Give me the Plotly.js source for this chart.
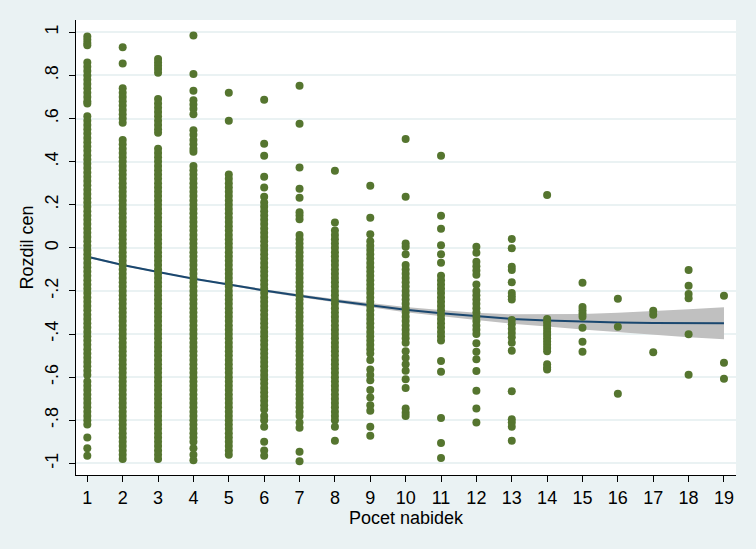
<!DOCTYPE html>
<html>
<head>
<meta charset="utf-8">
<script src="https://cdn.plot.ly/plotly-3.0.1.min.js"></script>
<style>html,body{margin:0;padding:0;background:#EAF2F3;}#chart{width:756px;height:549px;}</style>
</head>
<body>
<div id="chart"></div>
<script>
// Category positions (Pocet nabidek)
const categories = [1,2,3,4,5,6,7,8,9,10,11,12,13,14,15,16,17,18,19];
const yTickVals = [-1,-0.8,-0.6,-0.4,-0.2,0,0.2,0.4,0.6,0.8,1];
const yTickText = ["-1","-.8","-.6","-.4","-.2","0",".2",".4",".6",".8","1"];

const c1 = [.98,.965,.95,.94,.86,.84,.82,.80,.78,.76,.74,.72,.70,.68,.67,
 .61,.59,.57,.55,.53,.51,.49,.47,.45,.43,.41,.39,.37,.35,.33,.31,.29,.27,.25,.23,.21,.19,.17,.15,.13,.11,.09,.07,.05,.03,.01,
 -.01,-.03,-.05,-.07,-.09,-.11,-.13,-.15,-.17,-.19,-.21,-.23,-.25,-.27,-.29,-.31,-.33,-.35,-.37,-.39,-.41,-.43,-.45,-.47,-.49,-.51,-.53,-.55,-.57,-.59,
 -.62,-.64,-.66,-.68,-.70,-.72,-.74,-.76,-.78,-.80,-.82,-.88,-.93,-.965];
const c2 = [.93,.855,.74,.72,.70,.68,.66,.64,.62,.60,.58,
 .50,.48,.46,.44,.42,.40,.38,.36,.34,.32,.30,.28,.26,.24,.22,.20,.18,.16,.14,.12,.10,.08,.06,.04,.02,0,
 -.02,-.04,-.06,-.08,-.10,-.12,-.14,-.16,-.18,-.20,-.22,-.24,-.26,-.28,-.30,-.32,-.34,-.36,-.38,-.40,-.42,-.44,-.46,-.48,-.50,
 -.52,-.54,-.56,-.58,-.60,-.62,-.64,-.66,-.68,-.70,-.72,-.74,-.76,-.78,-.80,-.82,-.84,-.86,-.88,-.90,-.92,-.94,-.96,-.98];
const c3 = [.876,.86,.845,.83,.812,.69,.67,.65,.63,.61,.59,.57,.55,.534,
 .46,.44,.42,.40,.38,.36,.34,.32,.30,.28,.26,.24,.22,.20,.18,.16,.14,.12,.10,.08,.06,.04,.02,0,
 -.02,-.04,-.06,-.08,-.10,-.12,-.14,-.16,-.18,-.20,-.22,-.24,-.26,-.28,-.30,-.32,-.34,-.36,-.38,-.40,-.42,-.44,-.46,-.48,-.50,
 -.52,-.54,-.56,-.58,-.60,-.62,-.64,-.66,-.68,-.70,-.72,-.74,-.76,-.78,-.80,-.82,-.84,-.86,-.88,-.90,-.92,-.94,-.96,-.98];
const c4 = [.985,.806,.729,.685,.665,.645,.62,.545,.525,.50,.48,.46,.446,
 .38,.36,.34,.32,.30,.28,.26,.24,.22,.20,.18,.16,.14,.12,.10,.08,.06,.04,.02,0,
 -.02,-.04,-.06,-.08,-.10,-.12,-.14,-.16,-.18,-.20,-.22,-.24,-.26,-.28,-.30,-.32,-.34,-.36,-.38,-.40,-.42,-.44,-.46,-.48,-.50,
 -.52,-.54,-.56,-.58,-.60,-.62,-.64,-.66,-.68,-.70,-.72,-.74,-.76,-.78,-.80,-.82,-.84,-.86,-.88,-.90,-.93,-.96,-.985];
const c5 = [.72,.59,
 .34,.32,.30,.28,.26,.24,.22,.20,.18,.16,.14,.12,.10,.08,.06,.04,.02,0,
 -.02,-.04,-.06,-.08,-.10,-.12,-.14,-.16,-.18,-.20,-.22,-.24,-.26,-.28,-.30,-.32,-.34,-.36,-.38,-.40,-.42,-.44,-.46,-.48,-.50,
 -.52,-.54,-.56,-.58,-.60,-.62,-.64,-.66,-.68,-.70,-.72,-.74,-.76,-.78,-.80,-.82,-.84,-.86,-.88,-.90,-.92,-.94,-.96];
const c6 = [.687,.483,.427,.33,.28,.237,
 .21,.19,.17,.15,.13,.11,.09,.07,.05,.03,.01,
 -.01,-.03,-.05,-.07,-.09,-.11,-.13,-.15,-.17,-.19,-.21,-.23,-.25,-.27,-.29,-.31,-.33,-.35,-.37,-.39,-.41,-.43,-.45,-.47,-.49,
 -.51,-.53,-.55,-.57,-.59,-.61,-.63,-.65,-.67,-.69,-.71,-.73,-.75,-.78,-.80,-.83,-.90,-.94,-.965];
const c7 = [.752,.576,.373,.274,.232,.165,.15,.132,
 .06,.04,.02,0,-.02,-.04,-.06,-.08,-.10,-.12,-.14,-.16,-.18,-.20,-.22,-.24,-.26,-.28,-.30,-.32,-.34,-.36,-.38,-.40,-.42,-.44,-.46,-.48,-.50,
 -.52,-.54,-.56,-.58,-.60,-.62,-.64,-.66,-.68,-.70,-.72,-.74,-.76,-.78,-.81,-.835,-.946,-.99];
const c8 = [.358,.118,
 .08,.06,.04,.02,0,-.02,-.04,-.06,-.08,-.10,-.12,-.14,-.16,-.18,-.20,-.22,-.24,-.26,-.28,-.30,-.32,-.34,-.36,-.38,-.40,-.42,-.44,-.46,-.48,-.50,
 -.52,-.54,-.56,-.58,-.60,-.62,-.64,-.66,-.68,-.70,-.72,-.74,-.76,-.78,-.80,-.83,-.895];
const c9 = [.288,.14,.063,
 .03,.01,-.01,-.03,-.05,-.07,-.09,-.11,-.13,-.15,-.17,-.19,-.21,-.23,-.25,-.27,-.29,-.31,-.33,-.35,-.37,-.39,-.41,-.43,-.45,-.47,-.49,
 -.52,-.565,-.59,-.614,-.66,-.694,-.73,-.756,-.83,-.872];
const c10 = [.505,.237,.02,.005,-.03,
 -.08,-.10,-.12,-.14,-.16,-.18,-.20,-.22,-.24,-.26,-.28,-.30,-.32,-.34,-.36,-.38,-.40,-.42,-.44,
 -.48,-.51,-.54,-.57,-.61,-.65,-.745,-.765,-.78];
const c11 = [.427,.149,.089,.012,-.03,-.069,
 -.13,-.15,-.17,-.19,-.21,-.23,-.25,-.27,-.29,-.31,-.33,-.35,-.37,-.39,-.41,-.43,
 -.525,-.575,-.79,-.905,-.975];
const c12 = [.005,-.023,-.065,-.085,-.105,-.125,-.17,-.20,-.22,-.24,-.26,-.28,-.30,-.32,-.34,-.36,-.38,-.40,
 -.443,-.482,-.517,-.572,-.663,-.745,-.81];
const c13 = [.041,-.002,-.088,-.103,-.16,-.21,-.225,-.24,-.335,-.355,-.375,-.395,-.415,-.44,-.478,-.665,-.795,-.81,-.83,-.895];
const c14 = [.245,-.33,-.345,-.36,-.375,-.39,-.405,-.42,-.435,-.45,-.465,-.48,-.54,-.555,-.565];
const c15 = [-.162,-.275,-.29,-.305,-.32,-.371,-.436,-.482];
const c16 = [-.236,-.366,-.677];
const c17 = [-.292,-.31,-.484];
const c18 = [-.103,-.176,-.214,-.234,-.401,-.589];
const c19 = [-.222,-.533,-.607];
const columns = [c1,c2,c3,c4,c5,c6,c7,c8,c9,c10,c11,c12,c13,c14,c15,c16,c17,c18,c19];

// Quadratic fit with 95% CI
const fitY   = [-0.041,-0.080,-0.112,-0.143,-0.170,-0.198,-0.222,-0.246,-0.266,-0.287,-0.303,-0.318,-0.330,-0.337,-0.343,-0.346,-0.349,-0.350,-0.350];
const ciHigh = [-0.036,-0.076,-0.108,-0.139,-0.165,-0.192,-0.215,-0.238,-0.256,-0.275,-0.289,-0.301,-0.308,-0.309,-0.307,-0.301,-0.294,-0.285,-0.276];
const ciLow  = [-0.046,-0.084,-0.116,-0.147,-0.175,-0.204,-0.229,-0.254,-0.276,-0.299,-0.317,-0.335,-0.352,-0.365,-0.379,-0.391,-0.404,-0.415,-0.424];

const sx = [], sy = [];
columns.forEach((col, i) => col.forEach(v => { sx.push(categories[i]); sy.push(v); }));

const font = "Liberation Sans, Arial, sans-serif";
const traces = [
  {x: categories.concat(categories.slice().reverse()), y: ciHigh.concat(ciLow.slice().reverse()),
   type: 'scatter', mode: 'lines', fill: 'toself', fillcolor: '#C0C0C0', line: {width: 0}, hoverinfo: 'skip', showlegend: false},
  {x: categories, y: fitY, type: 'scatter', mode: 'lines', line: {color: '#1A476F', width: 2}, showlegend: false},
  {x: sx, y: sy, type: 'scatter', mode: 'markers', marker: {color: '#55752F', size: 8, line: {width: 0}}, showlegend: false}
];

const layout = {
  width: 756, height: 549,
  paper_bgcolor: '#EAF2F3', plot_bgcolor: '#FFFFFF',
  margin: {l: 76, r: 20, t: 20, b: 74},
  font: {family: font, size: 18, color: '#000000'},
  showlegend: false,
  xaxis: {
    range: [0.68, 19.34], tickvals: categories, ticktext: categories.map(String),
    ticks: 'outside', ticklen: 6, tickwidth: 1, tickcolor: '#000',
    showline: true, linecolor: '#000', linewidth: 1, mirror: false,
    showgrid: false, zeroline: false,
    tickfont: {family: font, size: 18},
    title: {text: 'Pocet nabidek', font: {family: font, size: 18}, standoff: 0}
  },
  yaxis: {
    range: [-1.054, 1.057], tickvals: yTickVals, ticktext: yTickText, tickangle: -90,
    ticks: 'outside', ticklen: 6, tickwidth: 1, tickcolor: '#000',
    showline: true, linecolor: '#000', linewidth: 1,
    showgrid: true, gridcolor: '#EAF2F3', gridwidth: 2, zeroline: false,
    ticklabelstandoff: 4,
    tickfont: {family: font, size: 18},
    title: {text: 'Rozdil cen', font: {family: font, size: 18}, standoff: 3}
  }
};

Plotly.newPlot('chart', traces, layout, {displayModeBar: false, staticPlot: true});
</script>
</body>
</html>
